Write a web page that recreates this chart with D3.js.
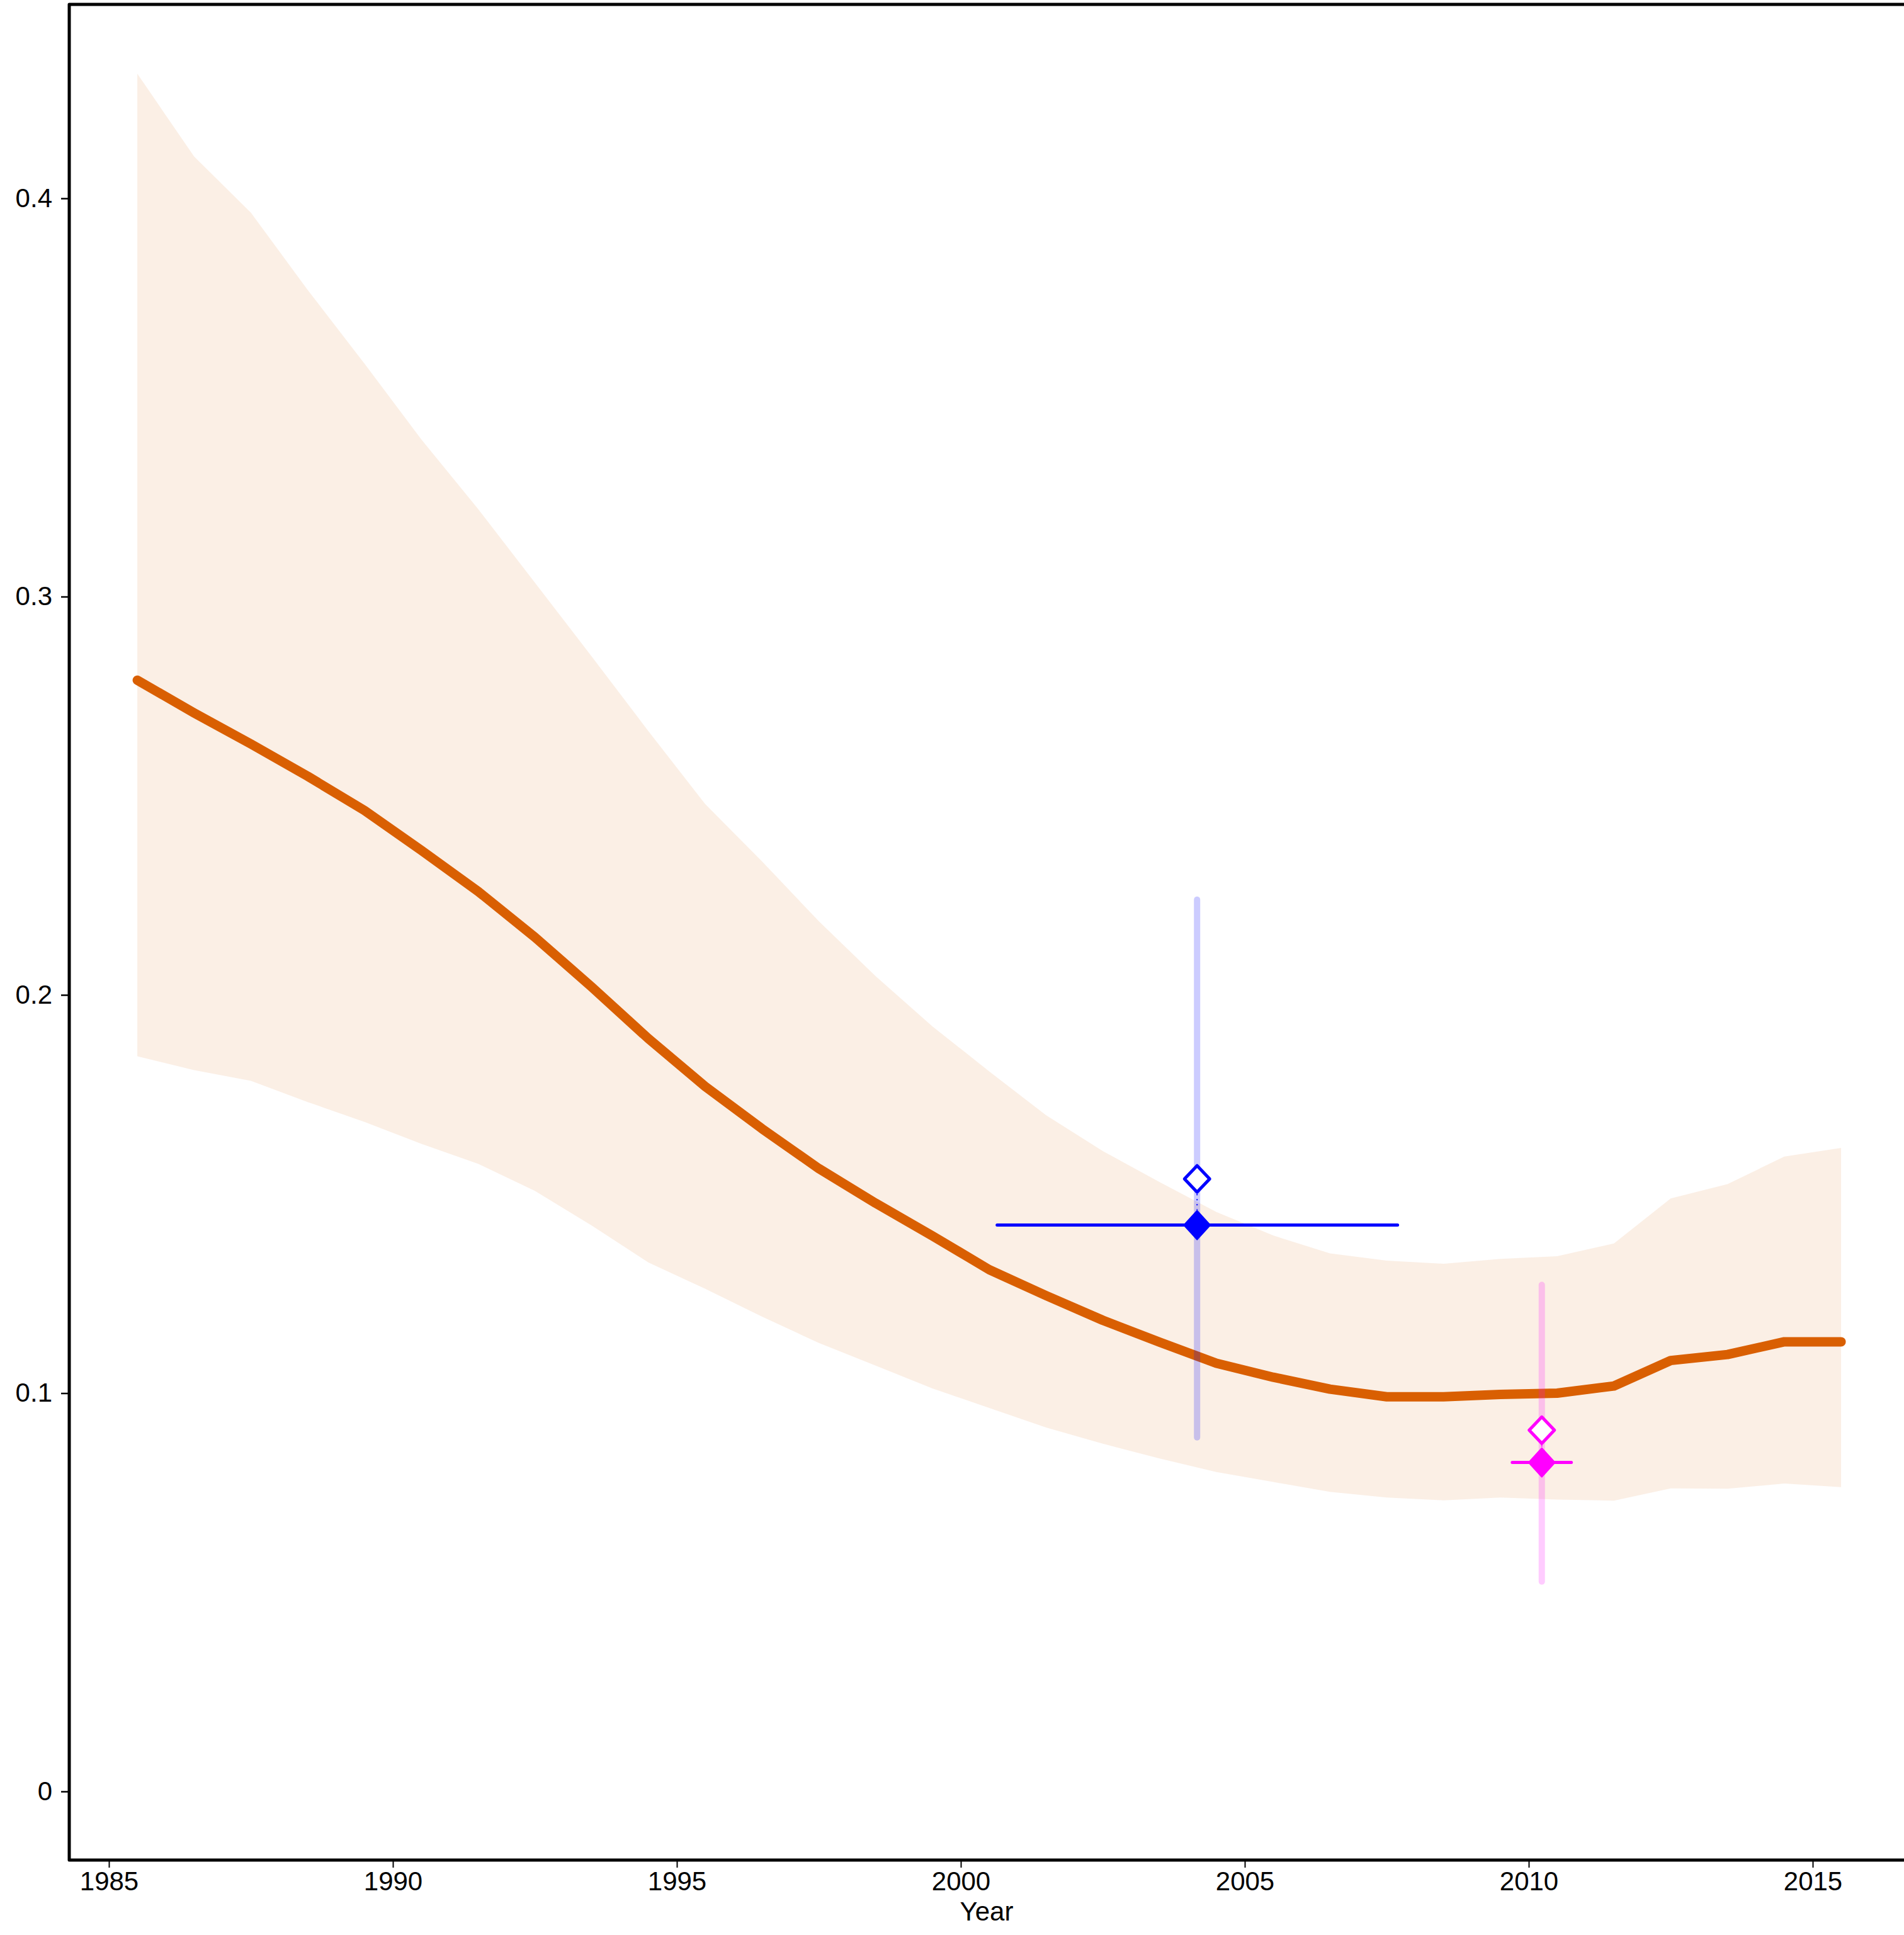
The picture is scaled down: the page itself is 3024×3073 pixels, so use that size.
<!DOCTYPE html>
<html>
<head>
<meta charset="utf-8">
<script src="https://cdn.jsdelivr.net/npm/d3@7"></script>
<style>
  html, body { margin: 0; padding: 0; background: #fff; }
  svg { display: block; }
  text { font-family: "Liberation Sans", Arial, sans-serif; }
</style>
</head>
<body>
<script>
// ---- data ----
const years = [1985.5, 1986.5, 1987.5, 1988.5, 1989.5, 1990.5, 1991.5, 1992.5, 1993.5, 1994.5,
  1995.5, 1996.5, 1997.5, 1998.5, 1999.5, 2000.5, 2001.5, 2002.5, 2003.5, 2004.5,
  2005.5, 2006.5, 2007.5, 2008.5, 2009.5, 2010.5, 2011.5, 2012.5, 2013.5, 2014.5, 2015.5];
const central = [0.279, 0.2708, 0.263, 0.2549, 0.2463, 0.2363, 0.226, 0.2145, 0.202, 0.189,
  0.177, 0.1664, 0.1564, 0.1477, 0.1395, 0.1310, 0.1245, 0.1183, 0.1128, 0.1075,
  0.104, 0.101, 0.0991, 0.0991, 0.0997, 0.1000, 0.1018, 0.1082, 0.1097, 0.1129, 0.1129];
const upper = [0.4313, 0.4105, 0.3964, 0.377, 0.3585, 0.3395, 0.322, 0.3035, 0.285, 0.2662,
  0.2479, 0.2335, 0.2185, 0.2047, 0.1921, 0.1808, 0.1698, 0.1608, 0.153, 0.1455,
  0.1396, 0.1351, 0.1333, 0.1325, 0.1337, 0.1344, 0.1376, 0.1489, 0.1525, 0.1594, 0.1616];
const lower = [0.1846, 0.1811, 0.1784, 0.1731, 0.1681, 0.1626, 0.1576, 0.1508, 0.1421, 0.1328,
  0.1262, 0.1192, 0.1126, 0.1069, 0.1012, 0.0963, 0.0914, 0.0873, 0.0836, 0.0802,
  0.0777, 0.0752, 0.0738, 0.0731, 0.0738, 0.0733, 0.0730, 0.0761, 0.0760, 0.0773, 0.0764];

// survey points
const surveyYear = [2004.16, 2010.23];
const surveyAdjusted = [0.1422, 0.0826];   // filled diamonds
const surveyRaw = [0.1538, 0.0907];        // open diamonds
const surveyCILow = [0.0889, 0.0527];
const surveyCIHigh = [0.2239, 0.1272];
const surveyYearStart = [2000.64, 2009.71];
const surveyYearEnd = [2007.69, 2010.75];
const surveyColor = ["#0000ff", "#ff00ff"];

const xTicks = [1985, 1990, 1995, 2000, 2005, 2010, 2015];
const yTicks = [0, 0.1, 0.2, 0.3, 0.4];
const yTickLabels = ["0", "0.1", "0.2", "0.3", "0.4"];
const xTitle = "Year";

// ---- layout ----
const W = 3024, H = 3073;
const frameLeft = 110, frameTop = 7, frameBottom = 2954;

const x = d3.scaleLinear().domain([1985, 2015]).range([173, 2879]);
const y = d3.scaleLinear().domain([0, 0.4]).range([2845, 315]);

const svg = d3.select("body").append("svg").attr("width", W).attr("height", H);

const rows = years.map((yr, i) => ({ yr, c: central[i], lo: lower[i], hi: upper[i] }));

// uncertainty band
svg.append("path")
  .datum(rows)
  .attr("fill", "#d95f02")
  .attr("fill-opacity", 0.1)
  .attr("d", d3.area().x(d => x(d.yr)).y0(d => y(d.lo)).y1(d => y(d.hi)));

// central line
svg.append("path")
  .datum(rows)
  .attr("fill", "none")
  .attr("stroke", "#d95f02")
  .attr("stroke-width", 15)
  .attr("stroke-linejoin", "round")
  .attr("stroke-linecap", "round")
  .attr("d", d3.line().x(d => x(d.yr)).y(d => y(d.c)));

const pts = surveyYear.map((yr, i) => ({
  yr, adj: surveyAdjusted[i], raw: surveyRaw[i], lo: surveyCILow[i], hi: surveyCIHigh[i],
  y0: surveyYearStart[i], y1: surveyYearEnd[i], col: surveyColor[i]
}));

// vertical CIs (semi-transparent)
svg.selectAll(".vci").data(pts).join("line")
  .attr("x1", d => x(d.yr)).attr("x2", d => x(d.yr))
  .attr("y1", d => y(d.lo)).attr("y2", d => y(d.hi))
  .attr("stroke", d => d.col).attr("stroke-opacity", 0.2)
  .attr("stroke-width", 10).attr("stroke-linecap", "round");

// horizontal year ranges
svg.selectAll(".hci").data(pts).join("line")
  .attr("x1", d => x(d.y0)).attr("x2", d => x(d.y1))
  .attr("y1", d => y(d.adj)).attr("y2", d => y(d.adj))
  .attr("stroke", d => d.col).attr("stroke-width", 5).attr("stroke-linecap", "round");

// dotted connectors raw -> adjusted
svg.selectAll(".conn").data(pts).join("line")
  .attr("x1", d => x(d.yr)).attr("x2", d => x(d.yr))
  .attr("y1", d => y(d.raw) + 24).attr("y2", d => y(d.adj) - 24)
  .attr("stroke", d => d.col).attr("stroke-width", 2).attr("stroke-dasharray", "2,6");

const diamond = (w, h) => `M0,${-h}L${w},0L0,${h}L${-w},0Z`;

// open diamonds (raw)
svg.selectAll(".raw").data(pts).join("path")
  .attr("transform", d => `translate(${x(d.yr)},${y(d.raw)})`)
  .attr("d", diamond(20, 21))
  .attr("fill", "#fff").attr("stroke", d => d.col).attr("stroke-width", 5)
  .attr("stroke-linejoin", "round");

// filled diamonds (adjusted)
svg.selectAll(".adj").data(pts).join("path")
  .attr("transform", d => `translate(${x(d.yr)},${y(d.adj)})`)
  .attr("d", diamond(21, 23))
  .attr("fill", d => d.col).attr("stroke", d => d.col).attr("stroke-width", 2)
  .attr("stroke-linejoin", "round");

// ---- frame ----
const frame = svg.append("g").attr("stroke", "#000").attr("stroke-width", 5).attr("fill", "none");
frame.append("path").attr("d", `M${W},${frameTop}H${frameLeft}V${frameBottom}H${W}`)
  .attr("stroke-linejoin", "round");

// ---- axes ----
const yAxis = d3.axisLeft(y).tickValues(yTicks).tickSize(13).tickPadding(14)
  .tickFormat((d, i) => yTickLabels[i]);
const gy = svg.append("g").attr("transform", `translate(${frameLeft},0)`).call(yAxis);
gy.select(".domain").remove();
gy.selectAll(".tick line").attr("stroke", "#000").attr("stroke-width", 2.5);
gy.selectAll(".tick text").attr("font-size", 42).attr("fill", "#000")
  .attr("font-family", "'Liberation Sans', Arial, sans-serif");

const xAxis = d3.axisBottom(x).tickValues(xTicks).tickSize(12).tickPadding(6)
  .tickFormat(d3.format("d"));
const gx = svg.append("g").attr("transform", `translate(0,${frameBottom})`).call(xAxis);
gx.select(".domain").remove();
gx.selectAll(".tick line").attr("stroke", "#000").attr("stroke-width", 2);
gx.selectAll(".tick text").attr("font-size", 42).attr("fill", "#000")
  .attr("font-family", "'Liberation Sans', Arial, sans-serif");

svg.append("text")
  .attr("x", (frameLeft + W) / 2).attr("y", 3050)
  .attr("text-anchor", "middle").attr("font-size", 42).attr("fill", "#000")
  .text(xTitle);
</script>
</body>
</html>
